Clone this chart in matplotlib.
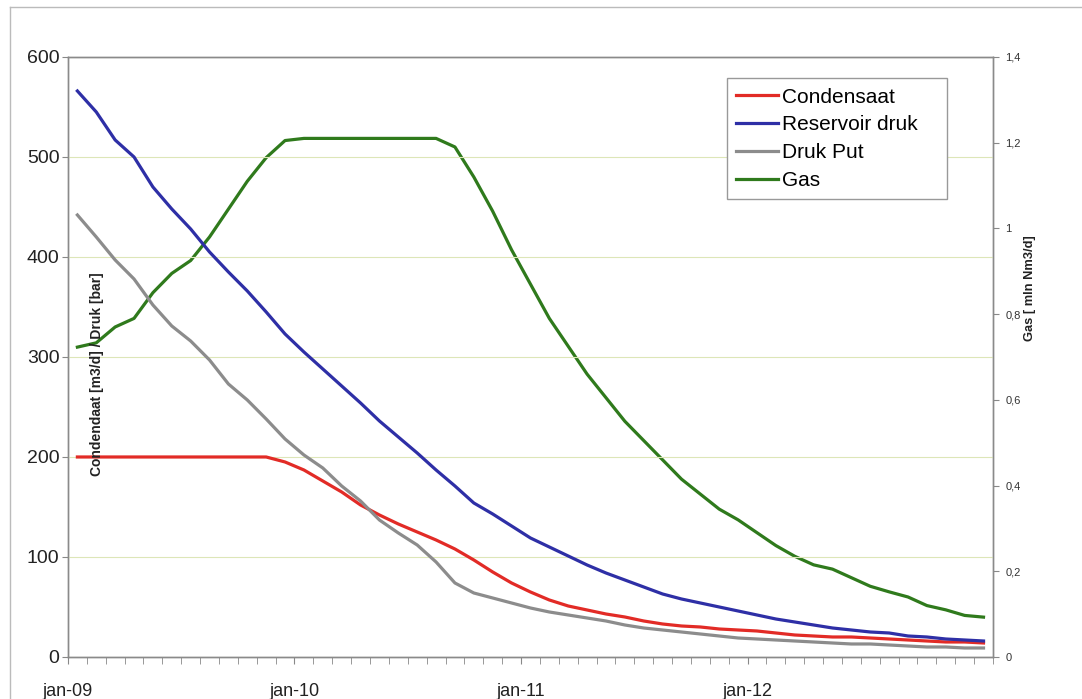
import numpy as np
import matplotlib
matplotlib.use("Agg")
import matplotlib.pyplot as plt
from matplotlib.lines import Line2D

plt.rcParams['font.family'] = ['Liberation Sans', 'DejaVu Sans']

# monthly values, jan-09 .. jan-13
condensaat = [200, 200, 200, 200, 200, 200, 200, 200, 200, 200,
              200, 195, 187, 176, 165, 152, 142, 133, 125, 117,
              108, 97, 85, 74, 65, 57, 51, 47, 43, 40,
              36, 33, 31, 30, 28, 27, 26, 24, 22, 21,
              20, 20, 19, 18, 17, 16, 15, 15, 14]
reservoir_druk = [566, 545, 517, 500, 470, 448, 428, 405, 385, 366,
                  345, 323, 305, 288, 271, 254, 236, 220, 204, 187,
                  171, 154, 143, 131, 119, 110, 101, 92, 84, 77,
                  70, 63, 58, 54, 50, 46, 42, 38, 35, 32,
                  29, 27, 25, 24, 21, 20, 18, 17, 16]
druk_put = [442, 420, 397, 378, 352, 331, 316, 297, 273, 257,
            238, 218, 202, 189, 171, 156, 137, 124, 112, 95,
            74, 64, 59, 54, 49, 45, 42, 39, 36, 32,
            29, 27, 25, 23, 21, 19, 18, 17, 16, 15,
            14, 13, 13, 12, 11, 10, 10, 9, 9]
gas = [0.723, 0.733, 0.77, 0.79, 0.85, 0.895, 0.925, 0.98, 1.045, 1.11,
       1.165, 1.205, 1.21, 1.21, 1.21, 1.21, 1.21, 1.21, 1.21, 1.21,
       1.19, 1.12, 1.04, 0.95, 0.87, 0.79, 0.725, 0.66, 0.605, 0.55,
       0.505, 0.46, 0.415, 0.38, 0.345, 0.32, 0.29, 0.26, 0.235, 0.215,
       0.205, 0.185, 0.165, 0.152, 0.14, 0.12, 0.11, 0.097, 0.093]

year_labels = ["jan-09", "jan-10", "jan-11", "jan-12"]
left_ticks = [0, 100, 200, 300, 400, 500, 600]
right_ticks = [0, 0.2, 0.4, 0.6, 0.8, 1.0, 1.2, 1.4]
right_labels = ["0", "0,2", "0,4", "0,6", "0,8", "1", "1,2", "1,4"]

bg = "#eff8c8"

fig = plt.figure(figsize=(10.82, 6.99), dpi=100)
ax = fig.add_axes([0.0628, 0.0601, 0.8549, 0.8584])
ax2 = ax.twinx()

n = len(condensaat)
x = np.arange(n) + 0.5

# gas on the secondary axis, drawn behind the left-axis lines
ax2.set_facecolor(bg)
l4, = ax2.plot(x, gas, color="#2f7a1c", lw=2.3, label="Gas")
ax2.set_ylim(0, 1.4)
ax2.set_yticks(right_ticks)
ax2.set_yticklabels(right_labels)
ax2.tick_params(axis="y", labelsize=8, length=4, pad=5, color="#888888", labelcolor="#333333")
ax2.set_zorder(0)

ax.set_zorder(1)
ax.patch.set_visible(False)
ax.yaxis.grid(True, color="#dde6b8", linewidth=0.8)
ax.set_axisbelow(True)

l1, = ax.plot(x, condensaat, color="#e22b26", lw=2.3, label="Condensaat")
l2, = ax.plot(x, reservoir_druk, color="#2e2fa6", lw=2.3, label="Reservoir druk")
l3, = ax.plot(x, druk_put, color="#8c8c8c", lw=2.3, label="Druk Put")

ax.set_xlim(0, n)
ax.set_ylim(0, 600)
ax.set_yticks(left_ticks)
ax.tick_params(axis="y", labelsize=14, length=4, pad=2, color="#888888", labelcolor="#222222")

ax.set_xticks(np.arange(0, n + 1), minor=True)
ax.set_xticks([0, 12, 24, 36])
ax.set_xticklabels(year_labels)
ax.tick_params(axis="x", which="major", labelsize=13, length=5, pad=14, color="#888888", labelcolor="#222222")
ax.tick_params(axis="x", which="minor", length=5, color="#888888")

for a in (ax, ax2):
    for s in a.spines.values():
        s.set_color("#8a8a8a")
        s.set_linewidth(1)

ax.text(0.031, 0.472, "Condendaat [m3/d] / Druk [bar]", transform=ax.transAxes,
        rotation=90, ha="center", va="center", fontsize=10, fontweight="bold", color="#222222")
fig.text(0.952, 0.588, "Gas [ mln Nm3/d]", rotation=90, ha="center", va="center",
         fontsize=9.3, fontweight="bold", color="#222222")

leg_h = 120 / 699
leg = ax.legend(handles=[l1, l2, l3, l4], loc="upper left", mode="expand",
                bbox_to_anchor=(0.672, 0.888 - leg_h, 220 / 1082, leg_h),
                bbox_transform=fig.transFigure,
                fontsize=15, frameon=True, fancybox=False, framealpha=1,
                edgecolor="#999999", handlelength=2.0, handletextpad=0.2,
                labelspacing=0.42, borderpad=0.45, borderaxespad=0)
leg.get_frame().set_linewidth(1)

# thin page border like the scan
fig.add_artist(Line2D([0.009, 0.009], [0.0, 0.99], color="#bbbbbb", lw=1))
fig.add_artist(Line2D([0.009, 1.0], [0.99, 0.99], color="#bbbbbb", lw=1))

fig.savefig("out.png", dpi=100)
